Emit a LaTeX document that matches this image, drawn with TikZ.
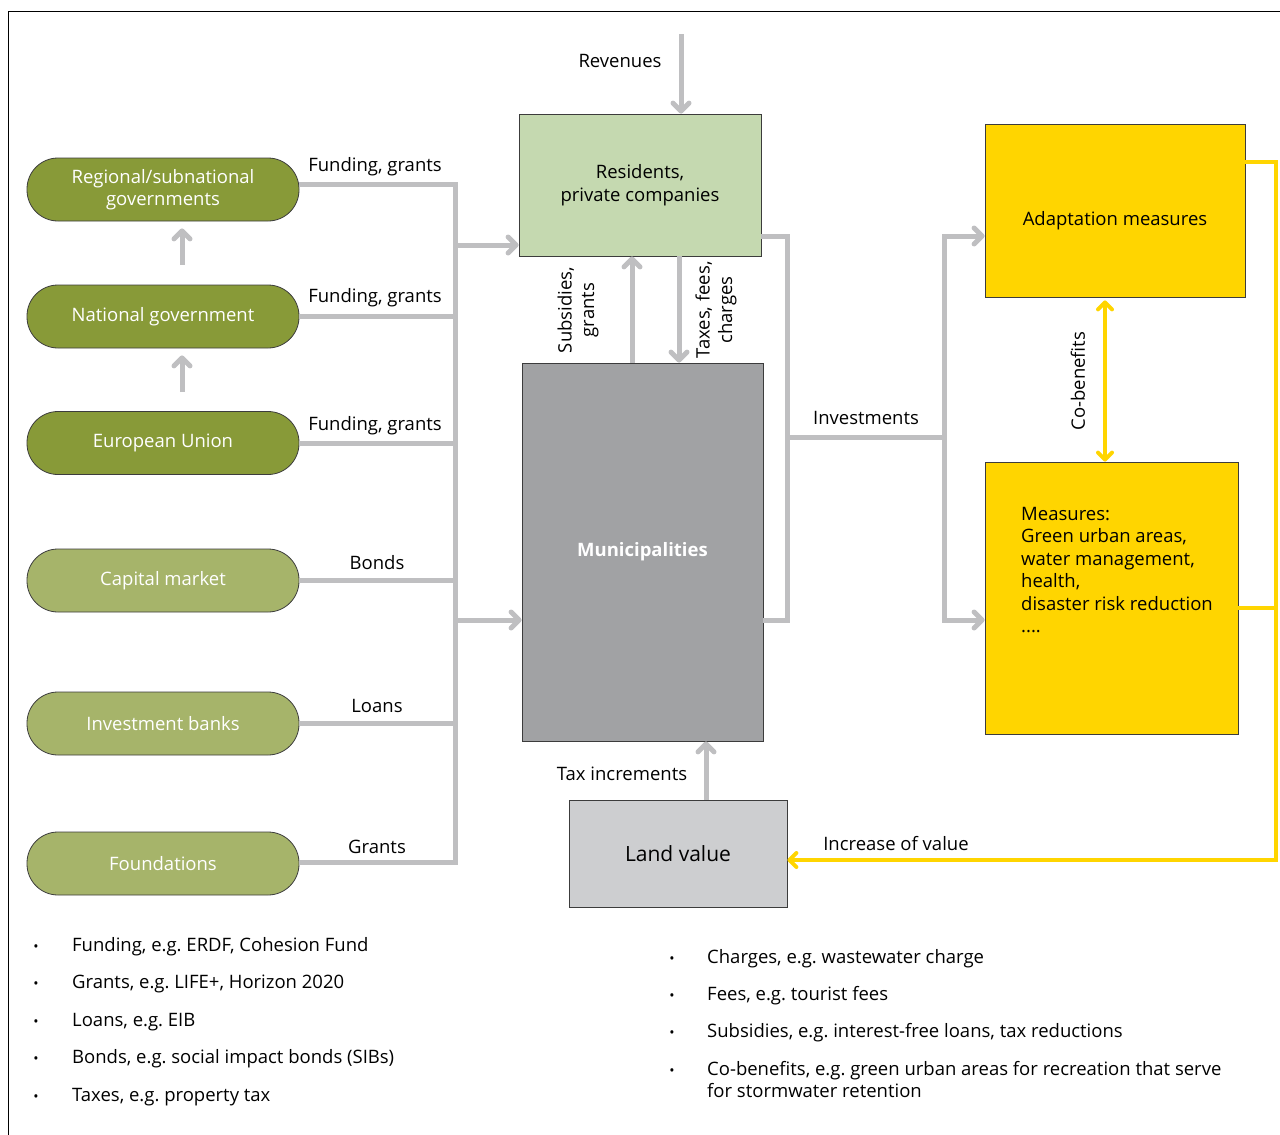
\documentclass[tikz,border=0pt]{standalone}
\usepackage{fontspec}
\setmainfont{Open Sans}
\usetikzlibrary{arrows.meta}
\frenchspacing

\definecolor{olivedark}{HTML}{889A38}
\definecolor{olivelight}{HTML}{A6B46A}
\definecolor{residentgreen}{HTML}{C5D9B0}
\definecolor{munigray}{HTML}{A1A2A4}
\definecolor{landgray}{HTML}{CDCED0}
\definecolor{measgold}{HTML}{FFD500}
\definecolor{flowgray}{HTML}{BFBFC1}
\definecolor{edgegray}{HTML}{3C3C3C}

\begin{document}
\begin{tikzpicture}[x=1pt,y=-1pt,font=\fontsize{18.5}{22.5}\selectfont,
  pill/.style={draw=edgegray,line width=0.8pt,rounded corners=31pt,minimum width=272pt,minimum height=63pt,text=white,align=center,inner sep=2pt},
  box/.style={draw=edgegray,line width=0.8pt,align=center,inner sep=2pt},
  flow/.style={draw=flowgray,line width=5pt},
  flowarrow/.style={flow,-{Straight Barb[length=8pt,width=16pt,round]}},
  gold/.style={draw=measgold,line width=4pt},
  goldarrow/.style={gold,-{Straight Barb[length=7pt,width=14pt,round]}},
  goldboth/.style={gold,{Straight Barb[length=7pt,width=14pt,round]}-{Straight Barb[length=7pt,width=14pt,round]}},
  dot/.style={inner sep=0pt,anchor=base,font=\fontsize{14}{16}\selectfont},
  note/.style={inner sep=0pt,anchor=base west}]
\useasboundingbox (0,0) rectangle (1280,1135);
\draw[line width=1pt] (8,1135) |- (1280,11);

% sources of money
\node[pill,fill=olivedark] (regional) at (163,189.5) {Regional/subnational\\governments};
\node[pill,fill=olivedark] (national) at (163,316.5) {National government};
\node[pill,fill=olivedark] (eu) at (163,443) {European Union};
\node[pill,fill=olivelight] (capital) at (163,580.5) {Capital market};
\node[pill,fill=olivelight] (banks) at (163,723.5) {Investment banks};
\node[pill,fill=olivelight] (foundations) at (163,863.5) {Foundations};

% main boxes
\node[box,fill=residentgreen,minimum width=242pt,minimum height=142pt] (residents) at (640,185) {Residents,\\private companies};
\node[box,fill=munigray,minimum width=241pt,minimum height=378pt,text=white,font=\fontsize{18.5}{22.5}\selectfont\bfseries] (municipalities) at (642.5,552) {Municipalities};
\node[box,fill=measgold,minimum width=260pt,minimum height=173pt,text height=34pt,text depth=4pt] (adaptation) at (1115,210.5) {Adaptation measures};
\node[box,fill=measgold,minimum width=253pt,minimum height=272pt] (measures) at (1111.5,598) {};
\node[anchor=north west,align=left,inner sep=0pt] (measurestext) at (1021,507) {Measures:\\Green urban areas,\\water management,\\health,\\disaster risk reduction\\....};
\node[box,fill=landgray,minimum width=218pt,minimum height=107pt,font=\fontsize{21}{25}\selectfont] (land) at (678,853.5) {Land value};

% labels
\node (fundreg) at (375,167) {Funding, grants};
\node (fundnat) at (375,298) {Funding, grants};
\node (fundeu) at (375,426) {Funding, grants};
\node (bonds) at (377,563) {Bonds};
\node (loans) at (377,706) {Loans};
\node (grants) at (377,847) {Grants};
\node (revenues) at (620,61) {Revenues};
\node[rotate=90,align=center] (subsidies) at (578,310) {Subsidies,\\grants};
\node[rotate=90,align=center] (taxes) at (716,310) {Taxes, fees,\\charges};
\node (investments) at (866,418) {Investments};
\node[rotate=90] (cobenefits) at (1078,381) {Co-benefits};
\node (taxinc) at (622,774) {Tax increments};
\node (increase) at (896,844) {Increase of value};

% helper coordinates
\coordinate (trunk) at (455,0);
\coordinate (yreg) at (0,184);
\coordinate (yfou) at (0,862);
\coordinate (yres) at (0,245);
\coordinate (ylow) at (0,620);
\coordinate (yinv) at (0,236);
\coordinate (yadapt) at (0,162);
\coordinate (ymeas) at (0,608);
\coordinate (yland) at (0,860);
\coordinate (junction) at (787,437);
\coordinate (hub) at (944,437);
\coordinate (rail) at (1276,0);
\coordinate (revsrc) at (681,34);
\coordinate (xup) at (632,0);
\coordinate (xdown) at (679,0);
\coordinate (xtax) at (706,0);
\coordinate (xco) at (1105,0);

% connectors
\draw[flow] (regional.east |- yreg) -| (trunk |- yfou) -- (foundations.east |- yfou);
\draw[flow] (national.east) -- (national.east -| trunk);
\draw[flow] (eu.east) -- (eu.east -| trunk);
\draw[flow] (capital.east) -- (capital.east -| trunk);
\draw[flow] (banks.east) -- (banks.east -| trunk);
\draw[flowarrow] (trunk |- yres) -- (residents.west |- yres);
\draw[flowarrow] (trunk |- ylow) -- (municipalities.west |- ylow);
\draw[flowarrow,shorten <=20pt,shorten >=7pt] ([xshift=19pt]national.north) -- ([xshift=19pt]regional.south);
\draw[flowarrow,shorten <=19pt,shorten >=7pt] ([xshift=19pt]eu.north) -- ([xshift=19pt]national.south);
\draw[flowarrow] (revsrc) -- (revsrc |- residents.north);
\draw[flowarrow] (municipalities.north -| xup) -- (residents.south -| xup);
\draw[flowarrow] (residents.south -| xdown) -- (municipalities.north -| xdown);
\draw[flow] (residents.east |- yinv) -| (junction) |- (municipalities.east |- ylow);
\draw[flow] (junction) -- (hub);
\draw[flowarrow] (hub) |- (adaptation.west |- yinv);
\draw[flowarrow] (hub) |- (measures.west |- ylow);
\draw[flowarrow] (land.north -| xtax) -- (municipalities.south -| xtax);
\draw[goldarrow] (adaptation.east |- yadapt) -| (rail |- yland) -- (land.east |- yland);
\draw[gold] (measures.east |- ymeas) -- (rail |- ymeas);
\draw[goldboth,shorten <=3pt] (adaptation.south -| xco) -- (measures.north -| xco);

% notes
\node[dot] (dl1) at (36,951) {•};
\node[note] (nl1) at (72,951) {Funding, e.g. ERDF, Cohesion Fund};
\node[dot] (dl2) at (36,988) {•};
\node[note] (nl2) at (72,988) {Grants, e.g. LIFE+, Horizon 2020};
\node[dot] (dl3) at (36,1026) {•};
\node[note] (nl3) at (72,1026) {Loans, e.g. EIB};
\node[dot] (dl4) at (36,1063) {•};
\node[note] (nl4) at (72,1063) {Bonds, e.g. social impact bonds (SIBs)};
\node[dot] (dl5) at (36,1101) {•};
\node[note] (nl5) at (72,1101) {Taxes, e.g. property tax};
\node[dot] (dr1) at (672,963) {•};
\node[note] (nr1) at (707,963) {Charges, e.g. wastewater charge};
\node[dot] (dr2) at (672,1000) {•};
\node[note] (nr2) at (707,1000) {Fees, e.g. tourist fees};
\node[dot] (dr3) at (672,1037) {•};
\node[note] (nr3) at (707,1037) {Subsidies, e.g. interest-free loans, tax reductions};
\node[dot] (dr4) at (672,1075) {•};
\node[note,anchor=north west,align=left] (nr4) at (707,1061) {Co-benefits, e.g. green urban areas for recreation that serve\\for stormwater retention};
\end{tikzpicture}
\end{document}
